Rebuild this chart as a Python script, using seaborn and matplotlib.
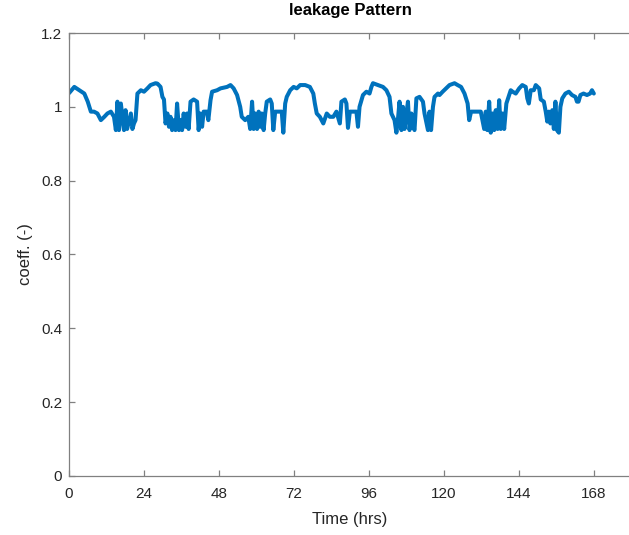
import matplotlib
matplotlib.use("Agg")
import matplotlib.pyplot as plt
import matplotlib.ticker as mticker
import seaborn as sns
import pandas as pd

# Weekly leakage pattern: time (hours) and coefficient
hours = [
    0.0, 1.7, 3.3, 4.9, 6.0, 7.0, 8.0, 9.1, 10.2, 11.3, 12.3, 13.4, 14.4, 15.0,
    15.5, 16.0, 16.6, 17.6, 18.1, 18.6, 19.8, 20.3, 20.8, 21.3, 21.9, 23.0,
    24.0, 25.1, 26.1, 27.7, 28.3, 29.3, 29.9, 30.4, 30.9, 31.5, 32.0, 32.5,
    33.0, 33.6, 34.1, 34.6, 35.2, 35.7, 36.2, 36.7, 37.3, 37.8, 38.3, 38.9,
    39.9, 41.0, 41.5, 42.0, 42.6, 43.1, 44.1, 44.6, 45.3, 45.8, 47.4, 48.5,
    50.6, 51.7, 52.7, 53.8, 54.8, 55.3, 56.4, 57.4, 58.0, 58.6, 59.1, 59.6,
    60.2, 60.7, 61.2, 61.7, 62.3, 62.8, 63.3, 64.4, 64.9, 65.4, 66.0, 67.0,
    68.1, 68.6, 69.2, 69.7, 70.8, 71.9, 72.9, 74.0, 75.6, 77.1, 78.2, 78.7,
    79.3, 80.3, 81.4, 82.5, 83.5, 84.6, 85.6, 86.7, 87.2, 88.3, 88.8, 89.3,
    89.9, 90.9, 92.0, 92.5, 93.0, 94.1, 95.2, 96.2, 96.8, 97.3, 98.9, 100.5,
    101.6, 102.6, 103.2, 104.2, 104.8, 105.3, 105.8, 106.4, 106.9, 107.4,
    108.0, 108.5, 109.0, 109.6, 110.1, 110.6, 111.2, 112.2, 113.3, 113.8,
    114.9, 115.4, 115.9, 116.5, 117.0, 118.1, 118.6, 119.6, 120.7, 121.8,
    123.4, 124.4, 125.5, 126.6, 127.6, 128.1, 128.7, 129.7, 130.8, 131.8,
    132.9, 133.4, 133.9, 134.5, 135.0, 135.6, 136.1, 136.6, 137.2, 137.7,
    138.2, 138.8, 139.3, 140.0, 140.9, 141.4, 142.0, 143.0, 144.1, 145.1,
    146.2, 146.7, 147.2, 147.8, 148.8, 149.4, 150.5, 151.0, 152.0, 152.6,
    153.1, 153.6, 154.1, 154.7, 155.2, 155.7, 156.2, 156.8, 157.3, 157.9,
    158.9, 160.0, 161.0, 162.1, 162.6, 163.1, 163.7, 164.7, 165.8, 166.8,
    167.4, 168.0,
]
coeff = [
    1.037, 1.054, 1.045, 1.036, 1.014, 0.987, 0.987, 0.982, 0.964, 0.973, 0.982, 0.987, 0.973, 0.937,
    1.014, 0.937, 1.009, 0.937, 0.991, 0.940, 0.982, 0.940, 0.955, 0.964, 1.036, 1.045,
    1.041, 1.050, 1.059, 1.064, 1.063, 1.054, 1.027, 1.020, 0.955, 0.982, 0.946, 0.973,
    0.937, 0.964, 0.937, 1.009, 0.937, 0.964, 0.937, 0.982, 0.946, 0.982, 0.940, 1.014,
    1.020, 1.014, 0.937, 0.982, 0.946, 0.987, 0.987, 0.964, 1.018, 1.041, 1.045, 1.050,
    1.054, 1.059, 1.050, 1.032, 1.000, 0.973, 0.964, 0.973, 0.940, 1.014, 0.940, 0.982,
    0.940, 0.987, 0.946, 0.982, 0.937, 0.982, 1.014, 1.020, 1.009, 0.937, 0.987, 0.987,
    0.987, 0.930, 1.009, 1.027, 1.045, 1.054, 1.050, 1.059, 1.059, 1.054, 1.036, 1.009,
    0.982, 0.973, 0.955, 0.982, 0.973, 0.973, 0.987, 0.955, 1.014, 1.020, 1.009, 0.943,
    0.987, 0.987, 0.987, 0.946, 1.000, 1.032, 1.041, 1.036, 1.054, 1.064, 1.059, 1.054,
    1.045, 1.027, 0.982, 0.964, 0.930, 0.967, 1.014, 0.937, 1.000, 0.940,
    0.982, 1.014, 0.937, 0.982, 0.946, 0.937, 1.023, 1.027, 1.014, 0.982,
    0.937, 0.987, 0.937, 1.000, 1.027, 1.036, 1.032, 1.041, 1.050, 1.059,
    1.064, 1.059, 1.054, 1.036, 1.009, 0.964, 0.987, 0.987, 0.987, 0.987,
    0.940, 0.987, 0.937, 1.014, 0.930, 0.982, 0.937, 0.991, 0.940, 1.018,
    0.940, 0.982, 0.940, 1.009, 1.032, 1.045, 1.041, 1.036, 1.050, 1.059,
    1.054, 1.023, 1.009, 1.045, 1.045, 1.059, 1.050, 1.020, 1.014, 0.987,
    0.960, 0.987, 0.955, 0.991, 0.940, 1.014, 0.937, 0.930, 1.000, 1.023,
    1.036, 1.041, 1.032, 1.027, 1.014, 1.014, 1.032, 1.036, 1.032, 1.036,
    1.045, 1.036,
]
x_ticks = [0, 24, 48, 72, 96, 120, 144, 168]
y_ticks = [0, 0.2, 0.4, 0.6, 0.8, 1.0, 1.2]

df = pd.DataFrame({"hours": hours, "coeff": coeff})

sns.set_theme(style="white")
plt.rcParams["font.family"] = ["Liberation Sans", "DejaVu Sans"]
text_color = "#262626"
spine_color = "#808080"

fig = plt.figure(figsize=(6.29, 5.35), dpi=100)
ax = fig.add_axes([0.1097, 0.1103, 0.894, 0.828])

sns.lineplot(data=df, x="hours", y="coeff", ax=ax, color="#0072BD",
             linewidth=2.9, estimator=None, sort=False)

ax.set_xlim(0, 180)
ax.set_ylim(0, 1.2)
ax.set_xticks(x_ticks)
ax.set_yticks(y_ticks)
ax.yaxis.set_major_formatter(mticker.FuncFormatter(lambda v, p: f"{v:g}"))

for side in ["left", "bottom", "top"]:
    ax.spines[side].set_visible(True)
    ax.spines[side].set_color(spine_color)
    ax.spines[side].set_linewidth(0.9)
ax.spines["right"].set_visible(False)

ax.tick_params(axis="both", direction="in", length=4, width=0.9,
               color=spine_color, labelcolor=text_color, labelsize=11, pad=5,
               bottom=True, left=True, top=True)
ax.tick_params(axis="x", pad=8)
ax.grid(False)

ax.set_xlabel("Time (hrs)", fontsize=12, color=text_color, labelpad=8)
ax.set_ylabel("coeff. (-)", fontsize=12, color=text_color, labelpad=6)
ax.set_title("leakage Pattern", fontsize=12, fontweight="bold", color="black", pad=13)

fig.savefig("out.png", dpi=100)
